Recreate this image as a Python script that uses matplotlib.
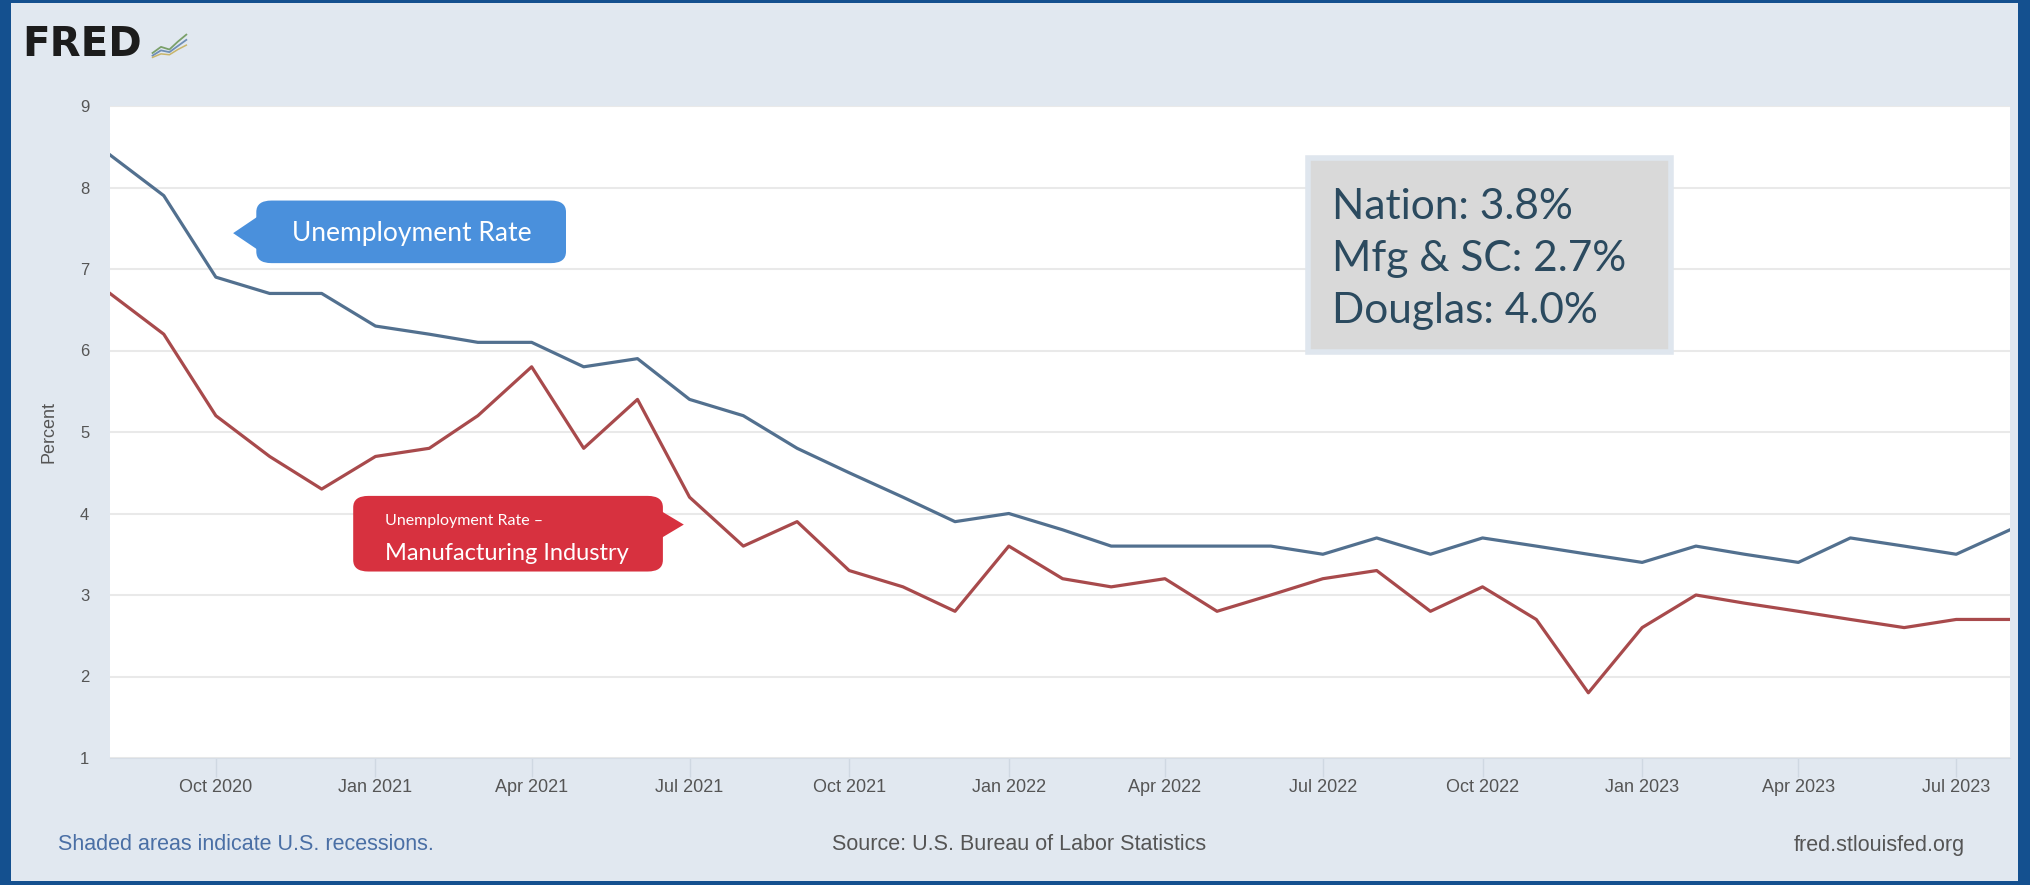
import pandas as pd
import matplotlib
matplotlib.use("Agg")
import matplotlib.pyplot as plt
import matplotlib.dates as mdates
from matplotlib.patches import FancyBboxPatch, Polygon, Rectangle

# monthly observations, Aug 2020 .. Aug 2023
months = pd.date_range("2020-08-01", "2023-08-01", freq="MS")

unrate = [8.4, 7.9, 6.9, 6.7, 6.7,
          6.3, 6.2, 6.1, 6.1, 5.8, 5.9, 5.4, 5.2, 4.8, 4.5, 4.2, 3.9,
          4.0, 3.8, 3.6, 3.6, 3.6, 3.6, 3.5, 3.7, 3.5, 3.7, 3.6, 3.5,
          3.4, 3.6, 3.5, 3.4, 3.7, 3.6, 3.5, 3.8]
unrate_mfg = [6.7, 6.2, 5.2, 4.7, 4.3,
              4.7, 4.8, 5.2, 5.8, 4.8, 5.4, 4.2, 3.6, 3.9, 3.3, 3.1, 2.8,
              3.6, 3.2, 3.1, 3.2, 2.8, 3.0, 3.2, 3.3, 2.8, 3.1, 2.7, 1.8,
              2.6, 3.0, 2.9, 2.8, 2.7, 2.6, 2.7, 2.7]

y_ticks = [1, 2, 3, 4, 5, 6, 7, 8, 9]
summary_lines = ["Nation: 3.8%", "Mfg & SC: 2.7%", "Douglas: 4.0%"]

NARROW = ["Liberation Sans Narrow", "Liberation Sans", "DejaVu Sans"]
CALLOUT = ["Lato", "DejaVu Sans"]

W, H = 2031, 885
fig = plt.figure(figsize=(W / 100, H / 100), dpi=100, facecolor="#14508f")
# light page inside the dark blue frame
fig.patches.append(Rectangle((11 / W, 4 / H), (W - 24) / W, (H - 7) / H,
                             transform=fig.transFigure, facecolor="#e1e8f0",
                             edgecolor="none", zorder=-1))

ax = fig.add_axes([110 / W, 127 / H, 1900 / W, 652 / H])
ax.set_facecolor("white")

ax.plot(months, unrate, color="#52708f", lw=2.3, zorder=3)
ax.plot(months, unrate_mfg, color="#a84a4c", lw=2.3, zorder=3)

ax.set_xlim(months[0], months[-1])
ax.set_ylim(1, 9)
ax.set_yticks(y_ticks)
ax.grid(axis="y", color="#e9e9e9", lw=1.5)
ax.set_axisbelow(True)
for s in ["top", "right", "left"]:
    ax.spines[s].set_visible(False)
ax.spines["bottom"].set_color("#d6dde6")

ax.xaxis.set_major_locator(mdates.MonthLocator(bymonth=[1, 4, 7, 10]))
ax.xaxis.set_major_formatter(mdates.DateFormatter("%b %Y"))
ax.tick_params(axis="x", length=14, width=1, color="#cfd8e2", pad=1,
               labelsize=13, labelcolor="#555555")
ax.tick_params(axis="y", length=0, pad=15, labelsize=12, labelcolor="#555555")
for lab in ax.get_xticklabels() + ax.get_yticklabels():
    lab.set_family(NARROW)

ax.set_ylabel("Percent", family=NARROW, fontsize=13, color="#555555",
              labelpad=16)

# blue callout
ax.add_patch(FancyBboxPatch((0.077, 0.759), 0.163, 0.096,
                            boxstyle="round,pad=0,rounding_size=0.008",
                            transform=ax.transAxes, facecolor="#4a90dc",
                            edgecolor="none", zorder=5, mutation_aspect=2.2))
ax.add_patch(Polygon([(0.0775, 0.83), (0.0648, 0.805), (0.0775, 0.78)],
                     closed=True, transform=ax.transAxes,
                     facecolor="#4a90dc", edgecolor="none", zorder=5))
ax.text(0.159, 0.805, "Unemployment Rate", transform=ax.transAxes,
        ha="center", va="center", color="white", fontsize=19,
        family=CALLOUT, zorder=6)

# red callout
ax.add_patch(FancyBboxPatch((0.128, 0.286), 0.163, 0.116,
                            boxstyle="round,pad=0,rounding_size=0.008",
                            transform=ax.transAxes, facecolor="#d7313f",
                            edgecolor="none", zorder=5, mutation_aspect=2.2))
ax.add_patch(Polygon([(0.2905, 0.378), (0.302, 0.358), (0.2905, 0.338)],
                     closed=True, transform=ax.transAxes,
                     facecolor="#d7313f", edgecolor="none", zorder=5))
ax.text(0.1445, 0.364, "Unemployment Rate \u2013", transform=ax.transAxes,
        ha="left", va="center", color="white", fontsize=11.5,
        family=CALLOUT, zorder=6)
ax.text(0.1445, 0.314, "Manufacturing Industry", transform=ax.transAxes,
        ha="left", va="center", color="white", fontsize=17,
        family=CALLOUT, zorder=6)

# summary box
ax.add_patch(Rectangle((0.6306, 0.622), 0.1908, 0.2985,
                       transform=ax.transAxes, facecolor="#d9d9d9",
                       edgecolor="#dfe6ee", lw=4, zorder=5))
for i, line in enumerate(summary_lines):
    ax.text(0.643, 0.845 - i * 0.0795, line, transform=ax.transAxes,
            ha="left", va="center", color="#2b4a5f", fontsize=30.5,
            family=CALLOUT, zorder=6)

# FRED logo
fig.text(22 / W, 1 - 45 / H, "FRED", fontsize=29, fontweight="heavy",
         family="DejaVu Sans", color="#1c1c1c", va="center", ha="left")
icon = fig.add_axes([150 / W, 1 - 60 / H, 38 / W, 28 / H])
icon.set_facecolor("#dfe7ee")
icon.plot([0, 1, 2, 3, 4], [0.5, 1.2, 0.9, 1.8, 2.6], color="#7aa06a", lw=1.3)
icon.plot([0, 1, 2, 3, 4], [0.2, 0.8, 0.6, 1.3, 2.0], color="#6f8fb6", lw=1.3)
icon.plot([0, 1, 2, 3, 4], [0.0, 0.4, 0.3, 0.9, 1.4], color="#c8b56a", lw=1.1)
icon.set_xlim(-0.3, 4.2)
icon.set_ylim(-0.3, 2.9)
icon.axis("off")

# footer
fig.text(58 / W, 1 - 845 / H, "Shaded areas indicate U.S. recessions.",
         family=NARROW, fontsize=15.5, color="#4a6fa5", va="center", ha="left")
fig.text(1019 / W, 1 - 845 / H, "Source: U.S. Bureau of Labor Statistics",
         family=NARROW, fontsize=15.5, color="#555555", va="center",
         ha="center")
fig.text(1965 / W, 1 - 845 / H, "fred.stlouisfed.org",
         family=NARROW, fontsize=15.5, color="#555555", va="center", ha="right")

fig.savefig("out.png", dpi=100, facecolor=fig.get_facecolor())
